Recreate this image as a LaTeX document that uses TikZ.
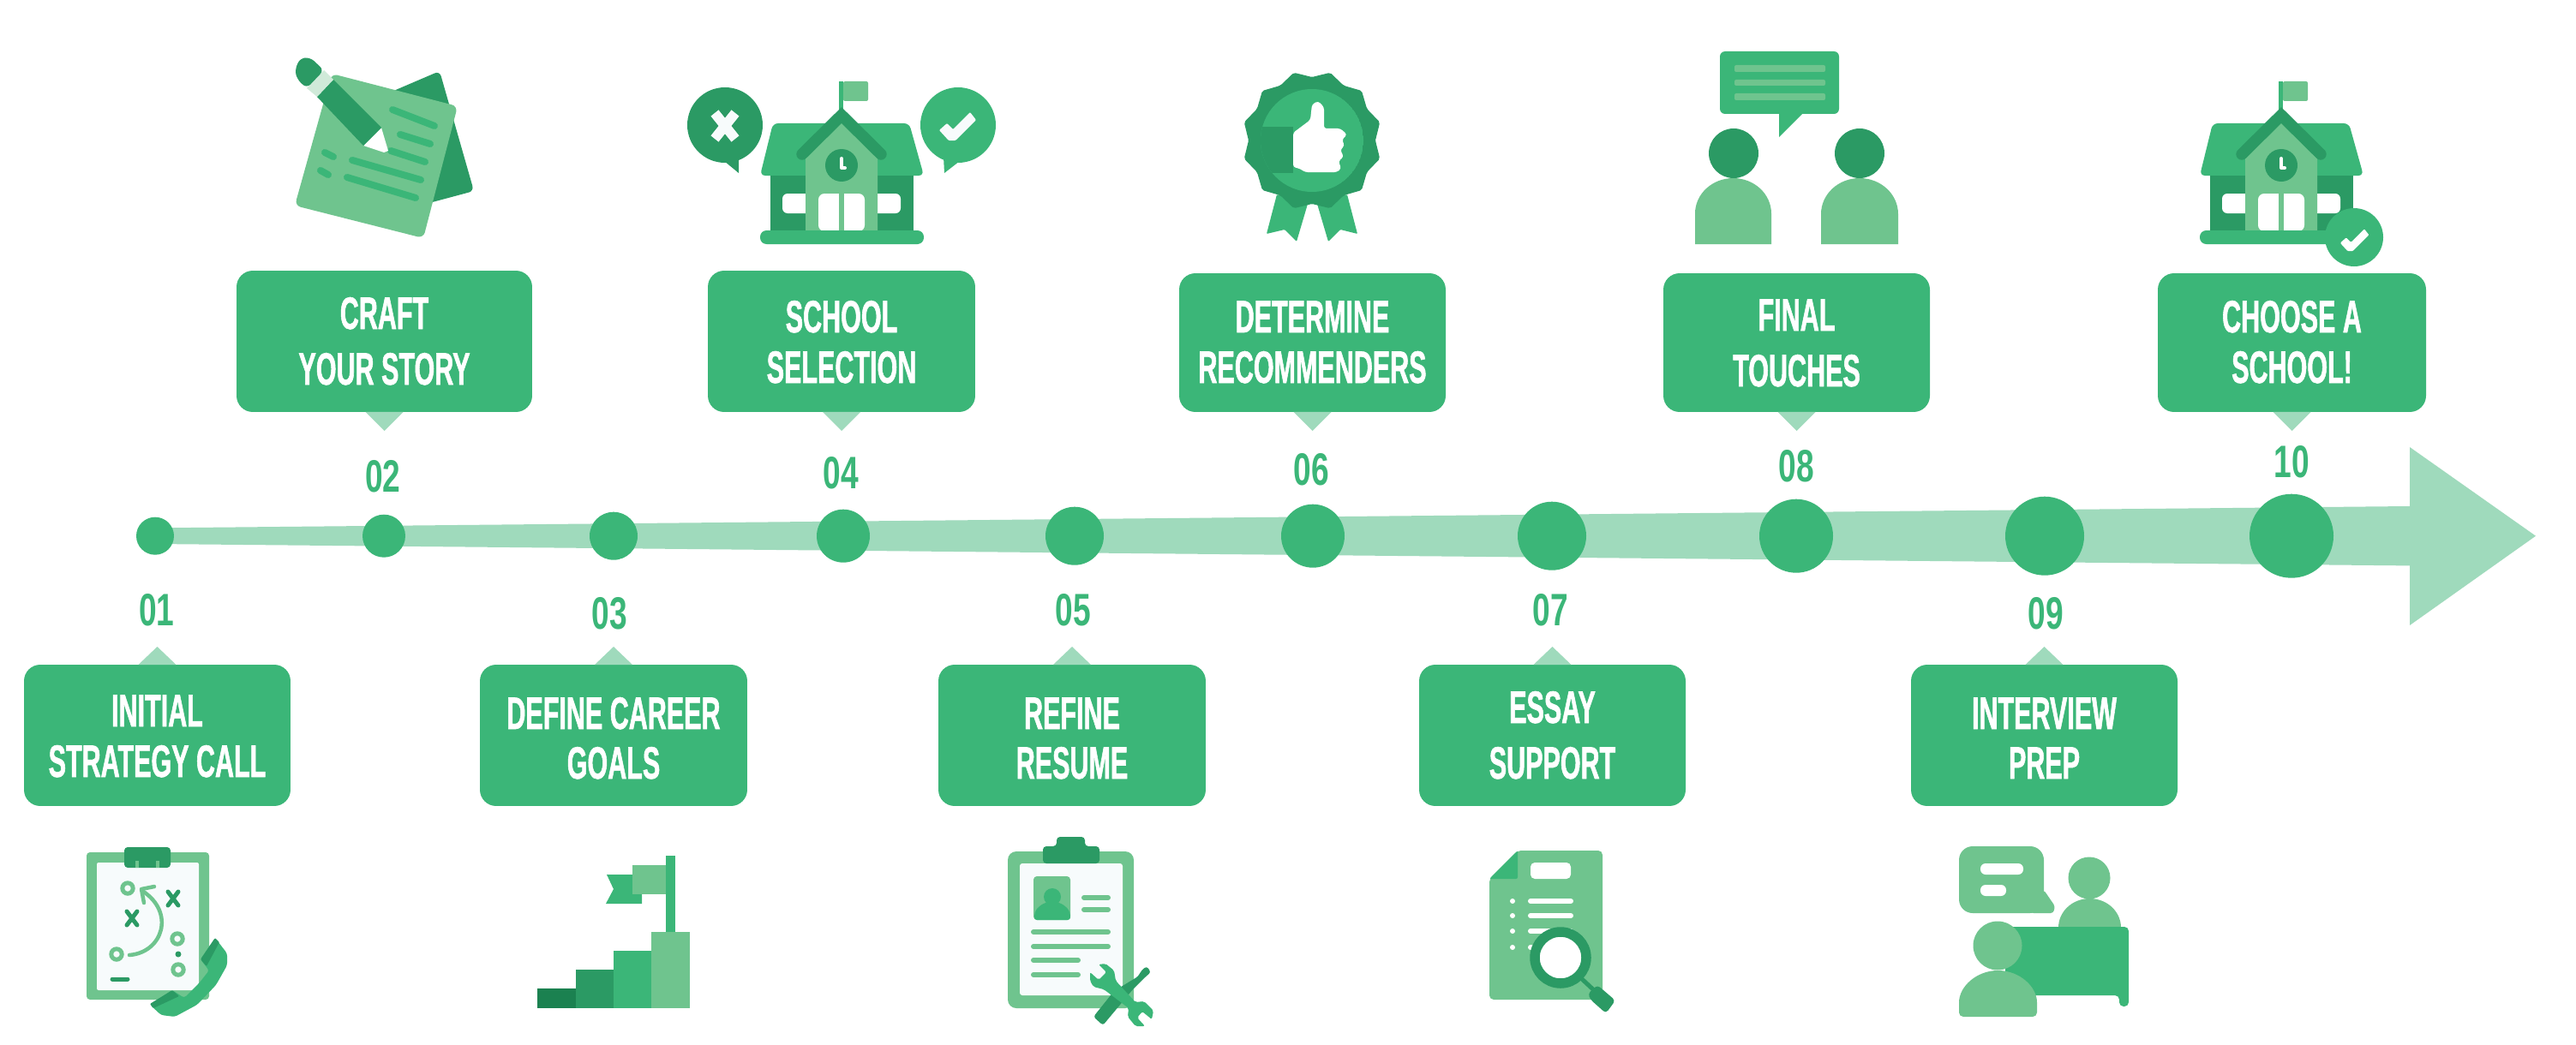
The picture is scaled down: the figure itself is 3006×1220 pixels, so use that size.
\documentclass[tikz,border=0pt]{standalone}
\usepackage{fontspec}
\setmainfont{Liberation Sans}
\newfontfamily\lblfont[FakeStretch=0.575,FakeBold=1.0]{Liberation Sans Bold}
\newfontfamily\numfont[FakeStretch=0.7]{Liberation Sans Bold}
\usetikzlibrary{calc}
\definecolor{gMain}{HTML}{3BB678}
\definecolor{gDark}{HTML}{2B9A64}
\definecolor{gMid}{HTML}{6FC48E}
\definecolor{gPale}{HTML}{D0EAD9}
\definecolor{gBand}{HTML}{9FDABC}
\definecolor{gDeep}{HTML}{1B8150}
\definecolor{gPaper}{HTML}{F7FBFC}
\newdimen\pxu \pxu=0.5691pt
\tikzset{
  stepbox/.style={fill=gMain,rounded corners=19\pxu,inner sep=0pt,outer sep=0pt},
  linetext/.style={anchor=base,text=white,inner sep=0pt,font=\lblfont\fontsize{30.2pt}{32pt}\selectfont},
  numtext/.style={anchor=base,text=gMain,inner sep=0pt,font=\numfont\fontsize{30.2pt}{32pt}\selectfont},
  dot/.style={circle,fill=gMain,inner sep=0pt,outer sep=0pt,minimum size=#1\pxu},
  tailfill/.style={fill=gBand},
  rib/.style={line width=#1\pxu,line cap=round},
}
% name, cx, cy, w, h, line1, base1, line2, base2
\newcommand\labelbox[9]{%
  \node[stepbox,minimum width=#4\pxu,minimum height=#5\pxu] (b#1) at (#2,#3) {};
  \node[linetext] (t#1a) at (#2,#7) {#6};
  \node[linetext] (t#1b) at (#2,#9) {#8};
}
% name, x, y, diameter
\newcommand\stepdot[4]{\node[dot=#4] (c#1) at (#2,#3) {};}
\newcommand\stepnum[3]{\node[numtext] (n#1) at (#2,#3) {#1};}
\newcommand\schoolicon[1]{%
  \begin{scope}[shift={(#1,0)}]
    \fill[gMain] (-3,95) rectangle (2,130);
    \fill[gMid,rounded corners=2\pxu] (2,95) rectangle (31,118);
    \fill[gMain,rounded corners=6\pxu] (-80,144) -- (79,144) -- (96,205) -- (-95,205) -- cycle;
    \fill[gDark] (-83,205) rectangle (84,271);
    \fill[white,rounded corners=6\pxu] (-69,226) rectangle (-30,249);
    \fill[white,rounded corners=6\pxu] (30,226) rectangle (69,249);
    \fill[gMid] (-42,271) -- (-42,185) -- (0,140) -- (42,185) -- (42,271) -- cycle;
    \draw[gDark,rib=13.4] (-46,180) -- (0,134.5) -- (46,180);
    \fill[gDark] (0,193) circle[radius=19];
    \draw[white,line width=4\pxu,line cap=round,line join=round] (0,185) -- (0,196) -- (4,196);
    \fill[white,rounded corners=7\pxu] (-27,270) -- (-27,226) -- (27,226) -- (27,270) -- cycle;
    \fill[gMid] (-3,226) rectangle (3,270);
    \fill[gMain,rounded corners=7.5\pxu] (-95,269) rectangle (96,285);
  \end{scope}}
\newcommand\archbody[5]{% fill options, xl, xr, ytop, ybottom
  \pgfmathsetmacro\archc{(#2+#3)/2}
  \pgfmathsetmacro\archw{(#3-#2)/2}
  \pgfmathsetmacro\archs{#4+\archw*0.93}
  \fill[#1] (#2,#5) -- (#2,\archs) arc[start angle=180,end angle=360,x radius=\archw,y radius=\archw*0.93] -- (#3,#5) -- cycle;
}
\begin{document}
\begin{tikzpicture}[x=0.02cm,y=-0.02cm]
\useasboundingbox (0,0) rectangle (3006,1220);
\fill[white] (0,0) rectangle (3006,1220);

% ===== timeline band and arrow
\coordinate (bandstart) at (181,625.7);
\coordinate (headtip) at (2959,625.7);
\fill[gBand] (181,616.4) -- (2812,591) -- (2812,522) -- (headtip) -- (2812,730) -- (2812,660.4) -- (181,635) -- cycle;

% ===== dots
\stepdot{01}{181}{625.7}{44}
\stepdot{02}{448}{625.7}{50}
\stepdot{03}{716}{625.7}{56}
\stepdot{04}{984}{625.7}{62}
\stepdot{05}{1254}{625.7}{68}
\stepdot{06}{1532}{625.7}{74}
\stepdot{07}{1811}{625.7}{80}
\stepdot{08}{2096}{625.7}{86}
\stepdot{09}{2386}{625.7}{92}
\stepdot{10}{2674}{625.7}{98}

% ===== numbers
\stepnum{01}{183}{730}
\stepnum{02}{447}{574}
\stepnum{03}{711}{734}
\stepnum{04}{981}{570}
\stepnum{05}{1252}{730}
\stepnum{06}{1530}{566}
\stepnum{07}{1809}{730}
\stepnum{08}{2096}{562}
\stepnum{09}{2387}{734}
\stepnum{10}{2674}{557}

% ===== boxes
\labelbox{01}{183.5}{858.5}{311}{165}{INITIAL}{848}{STRATEGY CALL}{907}
\labelbox{02}{448.5}{398.5}{345}{165}{CRAFT}{384}{YOUR STORY}{449}
\labelbox{03}{716}{858.5}{312}{165}{DEFINE CAREER}{851}{GOALS}{909}
\labelbox{04}{982}{398.5}{312}{165}{SCHOOL}{388}{SELECTION}{447}
\labelbox{05}{1251}{858.5}{312}{165}{REFINE}{851}{RESUME}{909}
\labelbox{06}{1531.5}{400}{311}{162}{DETERMINE}{388}{RECOMMENDERS}{447}
\labelbox{07}{1811.5}{858.5}{311}{165}{ESSAY}{844}{SUPPORT}{909}
\labelbox{08}{2096.5}{400}{311}{162}{FINAL}{386}{TOUCHES}{451}
\labelbox{09}{2385.5}{858.5}{311}{165}{INTERVIEW}{851}{PREP}{909}
\labelbox{10}{2674.5}{400}{313}{162}{CHOOSE A}{388}{SCHOOL!}{447}

% ===== tails
\foreach \n in {02,04,06,08,10}{
  \fill[tailfill] ($(b\n.south)+(-22,0)$) -- ($(b\n.south)+(22,0)$) -- ($(b\n.south)+(0,22)$) -- cycle;
}
\foreach \n in {01,03,05,07,09}{
  \fill[tailfill] ($(b\n.north)+(-22,0)$) -- ($(b\n.north)+(22,0)$) -- ($(b\n.north)+(0,-21)$) -- cycle;
}

% ===== icon 02: paper and pencil
\fill[gDark,rounded corners=6\pxu] (513,83) -- (553,223) -- (430,256) -- (380,140) -- cycle;
\fill[gMid,rounded corners=7\pxu] (387,86) -- (534,124) -- (494,278) -- (344,240) -- cycle;
\begin{scope}[gMain,line width=8\pxu,line cap=round]
  \draw (458,128) -- (507,147);
  \draw (467,157) -- (502,168);
  \draw (456,176) -- (496,189);
  \draw (411,187) -- (491,210);
  \draw (405,207) -- (485,231);
  \draw (379,178) -- (389,183);
  \draw (374,199) -- (383,204);
\end{scope}
\fill[white] (445,149) -- (424,170) -- (448,178) -- (453,176) -- cycle;
\fill[gDark] (389,93) -- (445,149) -- (424,170) -- (370,113) -- cycle;
\fill[gPale] (378,82) -- (389,93) -- (370,113) -- (358,103) -- cycle;
\fill[gDark,rounded corners=6\pxu] (378,82) -- (362,67) -- (350,68) -- (344,82) -- (347,93) -- (358,103) -- cycle;

% ===== icon 04
\schoolicon{982}
\fill[gDark] (846,146) circle[radius=44];
\fill[gDark] (845,188) -- (862,202) -- (862,183) -- cycle;
\draw[gPaper,line width=11.5\pxu,line cap=butt] (834,132) -- (858,162);
\draw[gPaper,line width=11.5\pxu,line cap=butt] (858,132) -- (834,162);
\fill[gMain] (1118,146) circle[radius=44];
\fill[gMain] (1120,188) -- (1102,202) -- (1101,183) -- cycle;
\fill[gPaper,rounded corners=1\pxu] (1105,144) -- (1112,151) -- (1132,131) -- (1139,140) -- (1115,164) -- (1107,164) -- (1096,152) -- cycle;

% ===== icon 06: badge
\fill[gMain,rounded corners=1\pxu] (1490,227) -- (1478,273) -- (1499,268) -- (1513,282) -- (1526,238) -- cycle;
\fill[gMain,rounded corners=1\pxu] (1572,227) -- (1584,273) -- (1564,268) -- (1550,282) -- (1537,238) -- cycle;
\begin{scope}[shift={(1531,164)}]
  \fill[gDark,rounded corners=2\pxu] (0:74) \foreach \a in {15,45,...,345}{ -- (\a:82) -- ({\a+15}:74) } -- cycle;
  \begin{scope}
    \clip (0,0) circle[radius=60];
    \fill[gMain] (0,0) circle[radius=60];
    \fill[gDark] (-60,-16) rectangle (-22,38);
  \end{scope}
\end{scope}
\fill[white,rounded corners=3\pxu] (1509,155) -- (1529,140) -- (1531,122) -- (1538,118) -- (1545,125) -- (1545,150) -- (1564,150) -- (1572,157) -- (1566,163) -- (1569,170) -- (1564,175) -- (1568,183) -- (1562,188) -- (1565,197) -- (1560,201) -- (1523,201) -- (1517,197) -- (1509,195) -- cycle;

% ===== icon 08: two people talking
\fill[gMain,rounded corners=6\pxu] (2007,60) rectangle (2146,133);
\fill[gMain] (2076,130) -- (2106,130) -- (2076,160) -- cycle;
\fill[gMid,rounded corners=2\pxu] (2024,76) rectangle (2130,84);
\fill[gMid,rounded corners=2\pxu] (2024,93) rectangle (2130,100);
\fill[gMid,rounded corners=2\pxu] (2024,109) rectangle (2130,117);
\fill[gDark] (2023,179) circle[radius=29];
\fill[gDark] (2170,179) circle[radius=29];
\archbody{gMid}{1978}{2067}{208}{285}
\archbody{gMid}{2125}{2215}{208}{285}

% ===== icon 10
\schoolicon{2662}
\fill[gMain] (2747,277) circle[radius=34];
\begin{scope}[shift={(2748,279)},scale=0.78]
  \fill[white,rounded corners=1\pxu] (-13,-2) -- (-6,5) -- (14,-15) -- (21,-6) -- (-3,18) -- (-11,18) -- (-22,6) -- cycle;
\end{scope}

% ===== icon 01: clipboard, play and phone
\fill[gMid,rounded corners=4\pxu] (101,995) rectangle (244,1167);
\fill[gPaper,rounded corners=2\pxu] (113,1007) rectangle (232,1156);
\fill[gDark,rounded corners=4\pxu] (145,989) rectangle (199,1013);
\draw[gMid,line width=3.5\pxu] (160,1005) -- (160,1013);
\draw[gMid,line width=3.5\pxu] (184,1005) -- (184,1013);
\foreach \px/\py in {149/1037,207/1096,136/1114,208/1132}{
  \draw[gMid,line width=5\pxu] (\px,\py) circle[radius=6.2];
}
\fill[gDark] (208,1114) circle[radius=3.5];
\foreach \px/\py in {202/1049,154/1072}{
  \draw[gDark,line width=5\pxu,line cap=round] (\px-6,\py-8) -- (\px+6,\py+8);
  \draw[gDark,line width=5\pxu,line cap=round] (\px+6,\py-8) -- (\px-6,\py+8);
}
\draw[gDark,line width=5\pxu,line cap=round] (131,1143) -- (149,1143);
\draw[gMid,line width=4.5\pxu,line cap=round] (151,1115) .. controls (190,1112) and (205,1065) .. (166,1040);
\draw[gMid,line width=4.5\pxu,line cap=round,line join=round] (168,1054) -- (165,1038) -- (180,1035);
\fill[gMain,rounded corners=3\pxu] (251,1095) -- (265,1113) -- (265,1127) -- (252,1150) -- (230,1173) -- (204,1187) -- (188,1185) -- (175,1173) -- (201,1156) -- (215,1165) -- (233,1147) -- (244,1133) -- (234,1120) -- cycle;
\fill[gDark,rounded corners=1\pxu] (251,1095) -- (256,1100) -- (241,1128) -- (234,1120) -- cycle;
\fill[gDark,rounded corners=1\pxu] (201,1156) -- (209,1163) -- (179,1177) -- (175,1172) -- cycle;

% ===== icon 03: stairs and flag
\fill[gDeep] (627,1154) rectangle (673,1177);
\fill[gDark] (672,1132) rectangle (716,1177);
\fill[gMain] (716,1110) rectangle (760,1177);
\fill[gMid] (760,1088) rectangle (805,1177);
\fill[gMain] (777,999) rectangle (788,1088);
\fill[gMain] (708,1021) -- (749,1021) -- (749,1055) -- (707,1055) -- (716,1038) -- cycle;
\fill[gMid] (738,1010) rectangle (777,1044);

% ===== icon 05: resume and tools
\fill[gMid,rounded corners=10\pxu] (1176,994) rectangle (1323,1177);
\fill[gPaper,rounded corners=3\pxu] (1190,1008) rectangle (1310,1162);
\fill[gDark,rounded corners=4\pxu] (1217,1008) -- (1217,988) -- (1233,988) -- (1233,977) -- (1266,977) -- (1266,988) -- (1283,988) -- (1283,1008) -- cycle;
\fill[gMid,rounded corners=4\pxu] (1206,1023) rectangle (1249,1074);
\fill[gMain] (1228,1047) circle[radius=10];
\fill[gMain,rounded corners=3\pxu] (1207,1074) -- (1207,1068) .. controls (1210,1058) and (1220,1053) .. (1228,1053) .. controls (1236,1053) and (1246,1058) .. (1249,1068) -- (1249,1074) -- cycle;
\begin{scope}[gMid,line width=6\pxu,line cap=round]
  \draw (1265,1048) -- (1293,1048);
  \draw (1265,1062) -- (1293,1062);
  \draw (1206,1088) -- (1293,1088);
  \draw (1206,1105) -- (1293,1105);
  \draw (1206,1121) -- (1258,1121);
  \draw (1206,1138) -- (1258,1138);
\end{scope}
\fill[gDark,rounded corners=3\pxu] (1276,1187) -- (1287,1197) -- (1322,1155) -- (1335,1142) -- (1343,1135) -- (1338,1128) -- (1332,1133) -- (1328,1140) -- (1300,1157) -- cycle;
\fill[gMain,rounded corners=2\pxu] (1272,1135) -- (1282,1144) -- (1291,1135) -- (1282,1126) -- (1290,1125) -- (1300,1133) -- (1302,1145) -- (1325,1170) -- (1335,1169) -- (1346,1180) -- (1344,1190) -- (1333,1181) -- (1327,1188) -- (1336,1198) -- (1325,1198) -- (1316,1187) -- (1317,1177) -- (1288,1155) -- (1276,1152) -- (1272,1145) -- cycle;

% ===== icon 07: document and magnifier
\fill[gMid,rounded corners=5\pxu] (1771,993) -- (1870,993) -- (1870,1167) -- (1738,1167) -- (1738,1026) -- cycle;
\fill[gMain,rounded corners=2\pxu] (1771,993) -- (1771,1026) -- (1738,1026) -- cycle;
\fill[white,rounded corners=5\pxu] (1786,1007) rectangle (1833,1026);
\foreach \yy in {1052,1069,1087,1106}{
  \fill[white] (1765,\yy) circle[radius=3];
  \draw[white,line width=6\pxu,line cap=round] (1786,\yy) -- (1833,\yy);
}
\draw[gDark,line width=5\pxu] (1845,1142) -- (1861,1157);
\fill[gDark,rounded corners=4\pxu] (1853,1160) -- (1864,1150) -- (1885,1168) -- (1874,1183) -- (1856,1167) -- cycle;
\fill[white] (1821,1118) circle[radius=26];
\draw[gDark,line width=11.5\pxu] (1821,1118) circle[radius=30];

% ===== icon 09: interview
\fill[gMid,rounded corners=16\pxu] (2286,988) rectangle (2385,1066);
\fill[gMid,rounded corners=3\pxu] (2385,1039) -- (2398,1058) -- (2396,1066) -- (2370,1066) -- cycle;
\fill[white,rounded corners=6\pxu] (2311,1008) rectangle (2361,1021);
\fill[white,rounded corners=6\pxu] (2311,1033) rectangle (2341,1046);
\fill[gMid] (2438,1025) circle[radius=24.5];
\archbody{gMid}{2402}{2475}{1049}{1084}
\fill[gMain,rounded corners=5\pxu] (2340,1082) -- (2484,1082) -- (2484,1175) -- (2473,1175) -- (2473,1162) -- (2340,1162) -- cycle;
\fill[gMid] (2331,1104) circle[radius=28.5];
\archbody{gMid,rounded corners=5\pxu}{2286}{2377}{1133}{1187}
\end{tikzpicture}
\end{document}
